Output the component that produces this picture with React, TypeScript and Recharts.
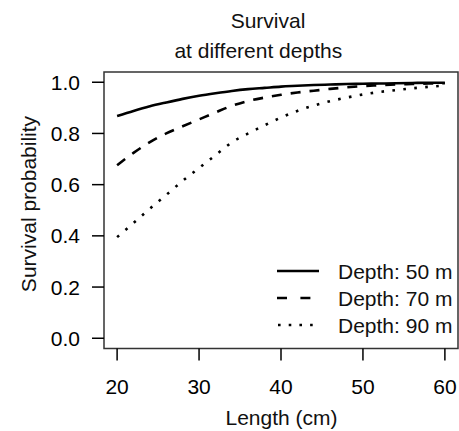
import React from "react"
import { LineChart, Line, XAxis, YAxis, ReferenceArea } from "recharts"

// length (cm) and survival probability for each depth
const lengths = [20, 22, 24, 26, 28, 30, 32, 34, 36, 38, 40, 42, 44, 46, 48, 50, 52, 54, 56, 58, 60]
const depth50 = [0.868, 0.888, 0.906, 0.921, 0.935, 0.947, 0.957, 0.966, 0.973, 0.978, 0.983, 0.986, 0.989, 0.991, 0.993, 0.994, 0.995, 0.996, 0.997, 0.998, 0.998]
const depth70 = [0.676, 0.724, 0.766, 0.8, 0.828, 0.855, 0.882, 0.908, 0.927, 0.94, 0.951, 0.96, 0.967, 0.974, 0.98, 0.985, 0.988, 0.991, 0.993, 0.995, 0.996]
const depth90 = [0.395, 0.45, 0.506, 0.56, 0.615, 0.665, 0.715, 0.765, 0.8, 0.832, 0.862, 0.888, 0.909, 0.926, 0.94, 0.952, 0.962, 0.969, 0.976, 0.982, 0.987]

const xTicks = [20, 30, 40, 50, 60]
const yTicks = [0, 0.2, 0.4, 0.6, 0.8, 1.0]
const legendLabels = ["Depth: 50 m", "Depth: 70 m", "Depth: 90 m"]

const data = lengths.map((len, i) => ({
  len,
  d50: depth50[i],
  d70: depth70[i],
  d90: depth90[i],
}))

const font = "'Liberation Sans', Arial, sans-serif"
const tickStyle = { fill: "#000", fontSize: 21, fontFamily: font }

export default function App() {
  return (
    <div style={{ position: "absolute", left: 0, top: 0, width: 459, height: 431, background: "#fff" }}>
      <LineChart
        width={459}
        height={431}
        data={data}
        margin={{ top: 72, right: 1, bottom: 0, left: 0 }}
      >
        <XAxis
          dataKey="len"
          type="number"
          domain={[18.4, 61.6]}
          ticks={xTicks}
          allowDataOverflow
          axisLine={false}
          tickSize={12}
          tickMargin={19}
          tickLine={{ stroke: "#000", strokeWidth: 1.5 }}
          tick={tickStyle}
          height={82.5}
        />
        <YAxis
          type="number"
          domain={[-0.04, 1.04]}
          ticks={yTicks}
          allowDataOverflow
          axisLine={false}
          tickSize={12}
          tickMargin={12}
          tickLine={{ stroke: "#000", strokeWidth: 1.5 }}
          tick={tickStyle}
          tickFormatter={(v: number) => v.toFixed(1)}
          width={104}
        />
        <ReferenceArea
          x1={18.4}
          x2={61.6}
          y1={-0.04}
          y2={1.04}
          fill="none"
          stroke="#333"
          strokeWidth={1.5}
          ifOverflow="visible"
        />
        <Line dataKey="d50" type="monotone" stroke="#000" strokeWidth={2.6} dot={false} isAnimationActive={false} />
        <Line dataKey="d70" type="monotone" stroke="#000" strokeWidth={2.6} strokeDasharray="10 9" dot={false} isAnimationActive={false} />
        <Line dataKey="d90" type="monotone" stroke="#000" strokeWidth={2.6} strokeDasharray="2.6 8.4" dot={false} isAnimationActive={false} />
      </LineChart>
      <svg width={459} height={431} style={{ position: "absolute", left: 0, top: 0, pointerEvents: "none" }}>
        <g fontFamily={font} fontSize={21} fill="#111">
          <text x={268} y={27.7} textAnchor="middle">Survival</text>
          <text x={258.3} y={57.7} textAnchor="middle">at different depths</text>
          <text x={281.5} y={425} textAnchor="middle">Length (cm)</text>
          <text transform="translate(36,204) rotate(-90)" textAnchor="middle">Survival probability</text>
          {legendLabels.map((label, i) => (
            <text key={label} x={338} y={278.5 + i * 27}>{label}</text>
          ))}
        </g>
        <line x1={277} x2={319} y1={271} y2={271} stroke="#000" strokeWidth={2.6} />
        <line x1={277} x2={319} y1={298} y2={298} stroke="#000" strokeWidth={2.6} strokeDasharray="10 13.4" />
        <line x1={278} x2={319} y1={325} y2={325} stroke="#000" strokeWidth={2.6} strokeDasharray="2.6 8.1" />
      </svg>
    </div>
  )
}
